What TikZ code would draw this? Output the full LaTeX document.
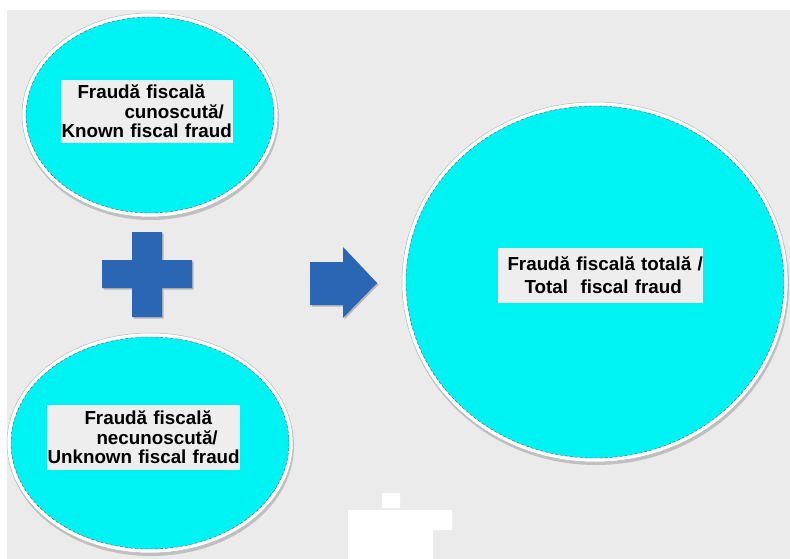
\documentclass[tikz,border=0pt]{standalone}
\usepackage{fontspec}
\setmainfont{Liberation Sans}
\usetikzlibrary{shapes.geometric,shadows}
\definecolor{paper}{HTML}{EBEBEB}
\definecolor{pool}{HTML}{00F3F3}
\definecolor{sign}{HTML}{2A66B4}
\definecolor{tagfill}{HTML}{EEEEEE}
\pgfmathsetmacro{\rimWidth}{4}
\tikzset{
	rim/.style= {
		shape=ellipse, draw=gray!55, fill=white,
		line width=0.5pt, inner sep=0,
		drop shadow={shadow xshift=1pt, shadow yshift=-3pt, opacity=0.4}
	},
	water/.style= {
		shape=ellipse, draw=black!65, densely dashed,
		line width=0.4pt, fill=pool, inner sep=0
	},
	fraudtag/.style= {
		fill=tagfill, inner xsep=0.5pt, inner ysep=0pt, align=left,
		font=\bfseries\fontsize{18.8}{19.5}\selectfont
	},
	signshape/.style= {
		fill=sign, draw=none,
		drop shadow={shadow xshift=1.5pt, shadow yshift=-1.5pt, opacity=0.5}
	}
}

\begin{document}
\begin{tikzpicture}[x=1pt,y=-1pt]
\useasboundingbox (0,0) rectangle (790,559);
\fill[paper] (7,10) rectangle (790,559);

% the three pools
\foreach \name/\x/\y/\w/\h in {known/150/115/256/204, unknown/150/443/286/220, total/595/282/386/360}{%
	\node[rim, minimum width=\w pt, minimum height=\h pt] (\name) at (\x,\y) {};
	\pgfmathsetmacro\wi{\w-2*\rimWidth}
	\pgfmathsetmacro\hi{\h-2*\rimWidth}
	\node[water, minimum width=\wi pt, minimum height=\hi pt] (\name-in) at (\x,\y) {};
}

% texts
\node[fraudtag, text width=171pt, minimum height=63pt] (known-text) at (147,111.5)
	{\hspace*{16pt}\mbox{Fraudă fiscală}\\\hspace*{63pt}\mbox{cunoscută/}\\\mbox{Known fiscal fraud}};
\node[fraudtag, text width=192pt, minimum height=65pt] (unknown-text) at (143.5,437.5)
	{\hspace*{37pt}\mbox{Fraudă fiscală}\\\hspace*{49pt}\mbox{necunoscută/}\\\mbox{Unknown fiscal fraud}};
\node[fraudtag, font=\bfseries\fontsize{18.8}{23}\selectfont, text width=204pt, minimum height=55pt] (total-text) at (600.5,275.5)
	{\hspace*{9pt}\mbox{Fraudă fiscală totală /}\\\hspace*{26pt}\mbox{Total\ \ fiscal fraud}};

% plus and arrow
\fill[signshape] (132,232) -- (162,232) -- (162,260) -- (192,260) -- (192,288) -- (162,288) -- (162,317)
	-- (132,317) -- (132,288) -- (102,288) -- (102,260) -- (132,260) -- cycle;
\fill[signshape] (310,262) -- (343,262) -- (343,247) -- (377,283) -- (343,318) -- (343,305) -- (310,305) -- cycle;

% white patch at the bottom
\fill[white] (382,493) rectangle (400,508) (348,510) rectangle (452,530) (348,510) rectangle (433,559);
\end{tikzpicture}
\end{document}
